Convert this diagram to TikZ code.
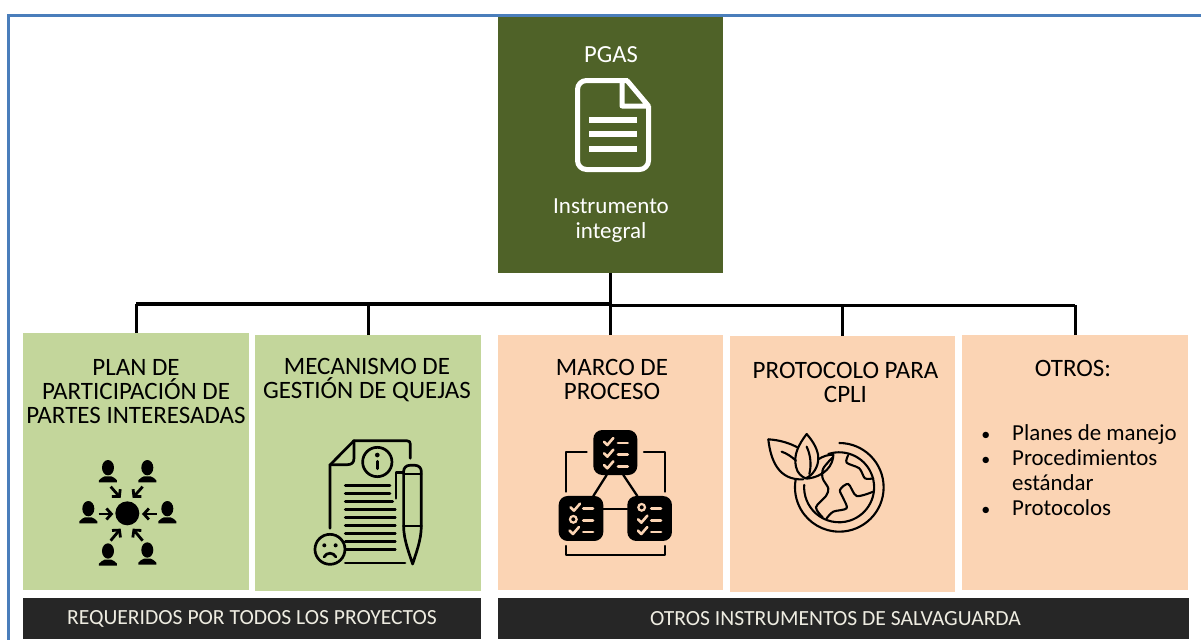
\documentclass[tikz,border=0pt]{standalone}
\usepackage{fontspec}
\setmainfont{Carlito}
\usetikzlibrary{arrows.meta}
\definecolor{pgasgreen}{HTML}{4F6228}
\definecolor{reqgreen}{HTML}{C3D69B}
\definecolor{otropeach}{HTML}{FBD4B4}
\definecolor{bardark}{HTML}{262626}
\definecolor{bartext}{HTML}{EEECE1}
\definecolor{frameblue}{HTML}{4A7EBB}
\newcommand{\listbullet}{\llap{{\fontsize{18}{18}\selectfont\textbullet}\hspace{22pt}}}
\tikzset{
  boxbase/.style={inner sep=0pt,outer sep=0pt,minimum width=226pt,minimum height=256pt},
  reqbox/.style={boxbase,fill=reqgreen},
  otrobox/.style={boxbase,fill=otropeach},
  barbox/.style={inner sep=0pt,outer sep=0pt,minimum height=41pt,fill=bardark,text=bartext,
    font=\fontsize{21.6}{24}\selectfont},
  titletext/.style={inner sep=0pt,align=center,font=\fontsize{25}{24.2}\selectfont},
  pgastext/.style={inner sep=0pt,align=center,text=white,font=\fontsize{23}{25}\selectfont},
  busline/.style={black,line width=3pt},
  iconline/.style={black,line width=2.1pt,line cap=round,line join=round},
  compline/.style={iconline,line width=2.7pt},
  peoplearrow/.style={black,line width=2.8pt,-{Straight Barb[length=5pt,width=11pt]}},
  person/.pic={
    \fill [black] (0,-12) ellipse [x radius=18,y radius=23];
    \fill [black] (-27,32) -- (-27,26) .. controls (-24,18) and (-14,18) .. (-10,14)
      -- (10,14) .. controls (14,18) and (24,18) .. (27,26) -- (27,32) -- cycle;
  },
}
\begin{document}
\begin{tikzpicture}[x=1pt,y=-1pt]
\useasboundingbox (0,0) rectangle (1201,640);
\draw [frameblue,line width=2.6pt] (1201,15.5) -- (8.5,15.5) -- (8.5,640);
% main boxes
\node [boxbase,fill=pgasgreen,minimum width=225pt] (pgas) at (610.5,145) {};
\node [reqbox,minimum height=257pt] (plan) at (136,461.5) {};
\node [reqbox] (quejas) at (368,463) {};
\node [otrobox,minimum width=225pt,minimum height=255pt] (marco) at (610.5,462.5) {};
\node [otrobox,minimum width=225pt] (cpli) at (842.5,464) {};
\node [otrobox,minimum height=255pt] (otros) at (1075,462.5) {};
\node [barbox,minimum width=458pt] (reqbar) at (252,618.5) {\raisebox{-2pt}{REQUERIDOS POR TODOS LOS PROYECTOS}};
\node [barbox,minimum width=691pt] (otrobar) at (843.5,618.5) {\hspace{-16pt}\raisebox{-2pt}{OTROS INSTRUMENTOS DE SALVAGUARDA}};
% connectors
\coordinate (bus) at (610.5,304);
\coordinate (busend) at (1075,305);
\draw [busline] (pgas.south) -- (bus);
\draw [busline,line width=4pt] (plan.north |- bus) -- (bus);
\draw [busline] (bus |- busend) -- (busend);
\draw [busline] (plan.north) -- (plan.north |- bus);
\draw [busline] (quejas.north) -- (quejas.north |- bus);
\draw [busline] (marco.north) -- (bus);
\draw [busline] (cpli.north) -- (cpli.north |- bus);
\draw [busline] (otros.north) -- (busend);
% texts
\node [pgastext,font=\fontsize{24.6}{25}\selectfont] (pgastitle) at (611,54.5) {PGAS};
\node [pgastext] (pgassub) at (611,220.5) {Instrumento\\integral};
\node [titletext] (plantitle) at (136,391.5) {PLAN DE\\PARTICIPACIÓN DE\\PARTES INTERESADAS};
\node [titletext] (quejastitle) at (367,380) {MECANISMO DE\\GESTIÓN DE QUEJAS};
\node [titletext] (marcotitle) at (612,379.5) {MARCO DE\\PROCESO};
\node [titletext] (cplititle) at (845.5,382.5) {PROTOCOLO PARA\\CPLI};
\node [titletext] (otrostitle) at (1073,368.5) {OTROS:};
\node [inner sep=0pt,anchor=north west,align=left,font=\fontsize{22.9}{25}\selectfont] (otroslist) at (1012,424.5)
  {\listbullet Planes de manejo\\\listbullet Procedimientos\\estándar\\\listbullet Protocolos};
% document icon
\draw [white,line width=5pt,line join=round,rounded corners=9pt] (628,80.5) -- (577.5,80.5)
  -- (577.5,169.5) -- (648.5,169.5) -- (648.5,106);
\draw [white,line width=5pt,line join=round] (627,80.5) -- (648.5,106) -- (622,106) -- (622,80.5);
\fill [white] (589,117) rectangle (637,123);
\fill [white] (589,131) rectangle (637,137);
\fill [white] (589,146) rectangle (637,152);
% people icon
\begin{scope}[shift={(20,430)},scale=0.3333]
\fill [black] (322,250) circle (36);
\pic [scale=0.3333] at (264,125) {person};
\pic [scale=0.3333] at (382,125) {person};
\pic [scale=0.3333] at (205,248) {person};
\pic [scale=0.3333] at (442,248) {person};
\pic [scale=0.3333] at (264,375) {person};
\pic [scale=0.3333] at (382,372) {person};
\draw [peoplearrow] (272,170) -- (302,204);
\draw [peoplearrow] (368,170) -- (338,204);
\draw [peoplearrow] (236,252) -- (280,252);
\draw [peoplearrow] (410,252) -- (366,252);
\draw [peoplearrow] (272,332) -- (302,296);
\draw [peoplearrow] (368,332) -- (338,296);
% complaint icon
\draw [compline] (930,295) -- (930,105) -- (1002,32) -- (1160,32)
  .. controls (1168,32) and (1171,36) .. (1171,42) -- (1171,85);
\draw [compline] (1002,32) -- (1002,85) .. controls (1002,98) and (995,104) .. (982,104) -- (930,104);
\draw [compline] (1072,96) circle (44);
\fill [black] (1072,75) circle (7);
\draw [black,line width=2.8pt,line cap=round] (1072,94) -- (1072,116);
\foreach \y/\xend in {166/1110,190/1110,214/1118,238/1126,262/1126,286/1126,310/1126,334/1126,358/1126,399/1155}
  \draw [black,line width=2.8pt,line cap=round] (976,\y) -- (\xend,\y);
\draw [compline,rounded corners=6pt] (1151,288) -- (1151,106) -- (1204,106) -- (1204,288);
\draw [compline] (1151,132) -- (1204,132);
\draw [compline] (1151,288) -- (1204,288);
\draw [compline] (1151,288) .. controls (1151,330) and (1168,370) .. (1178,402)
  .. controls (1188,370) and (1204,330) .. (1204,288);
\draw [compline] (1151,128) -- (1128,128) -- (1128,205);
\draw [compline] (930,358) circle (45);
\fill [black] (913,346) circle (6);
\fill [black] (947,346) circle (6);
\draw [compline] (912,381) .. controls (920,366) and (940,366) .. (948,381);
\end{scope}
% process icon
\begin{scope}[shift={(500,410)},scale=0.3333]
\fill [black,rounded corners=9pt] (280,60) rectangle (412,195);
\fill [black,rounded corners=9pt] (176,258) rectangle (310,393);
\fill [black,rounded corners=9pt] (382,258) rectangle (516,393);
\draw [iconline,line width=2.3pt] (320,195) -- (280,258);
\draw [iconline,line width=2.3pt] (370,195) -- (412,258);
\draw [iconline,line width=2.3pt] (310,298) -- (382,298);
\draw [iconline,line width=2.3pt] (197,245) -- (197,127) -- (260,127);
\draw [iconline,line width=2.3pt] (432,127) -- (495,127) -- (495,245);
\draw [iconline,line width=2.3pt] (197,408) -- (197,435) -- (495,435) -- (495,408);
\foreach \x/\y in {325/95,325/130,325/165,225/292,222/362,427/328,427/362}
  \draw [otropeach,line width=2.6pt,line cap=round,line join=round] (\x-13,\y) -- (\x-3,\y+10) -- (\x+15,\y-11);
\foreach \x/\y in {220/328,425/292}
  \draw [otropeach,line width=2.2pt] (\x,\y) circle (10);
\foreach \xa/\y in {354/99,354/134,354/169,250/296,250/331,250/366,454/296,454/331,454/366}
  \draw [otropeach,line width=2.8pt,line cap=round] (\xa,\y) -- (\xa+29,\y);
\end{scope}
% earth icon
\begin{scope}[shift={(500,410)},scale=0.3333]
\draw [iconline] (1018,99) arc [start angle=-90,end angle=190,radius=133];
\draw [iconline] (985,132) arc [start angle=-108,end angle=184,radius=105];
\draw [iconline] (805,88) .. controls (840,90) and (870,100) .. (892,112);
\draw [iconline] (805,88) .. controls (812,150) and (835,212) .. (910,208);
\draw [iconline] (920,72) .. controls (895,105) and (880,135) .. (888,170)
  .. controls (892,190) and (905,200) .. (917,205) .. controls (940,195) and (955,170) .. (955,145)
  .. controls (955,120) and (940,95) .. (920,72) -- cycle;
\draw [iconline] (955,148) .. controls (970,138) and (985,134) .. (1000,134)
  .. controls (1000,165) and (975,200) .. (920,206);
\draw [iconline] (845,125) .. controls (860,130) and (875,140) .. (888,152);
\draw [iconline] (920,110) .. controls (932,135) and (935,165) .. (928,192);
\draw [iconline] plot [smooth] coordinates {(1000,140) (970,175) (968,205) (985,235) (978,258) (948,292) (968,322)};
\draw [iconline] plot [smooth] coordinates {(980,325) (1000,305) (1040,295) (1030,265) (1020,240) (1045,222) (1070,258) (1120,245)};
\draw [iconline] plot [smooth] coordinates {(1045,135) (1040,158) (1078,175) (1095,205) (1120,205)};
\end{scope}
\end{tikzpicture}
\end{document}
